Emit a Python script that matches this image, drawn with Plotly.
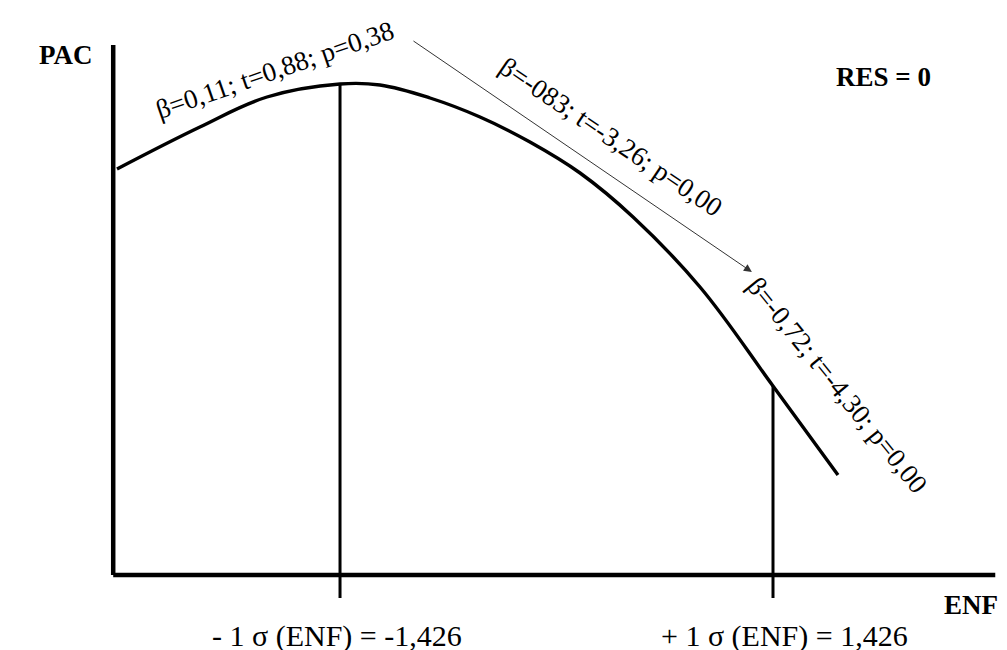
import plotly.graph_objects as go

# ENF (x) and PAC (y) values of the conceptual curve
enf = [-2.895, -2.349, -1.907, -1.426, -1.163, -0.833, -0.504, -0.175, 0.155, 0.504, 0.945, 1.426, 1.854]
pac = [4.06, 4.48, 4.78, 4.91, 4.90, 4.77, 4.58, 4.33, 4.02, 3.58, 2.88, 1.89, 1.00]

sigma_x = [-1.426, 1.426]
sigma_y = [4.91, 1.89]
sigma_labels = ["- 1 σ (ENF) = -1,426", "+ 1 σ (ENF) = 1,426"]
sigma_label_x = [-1.449, 1.502]

axis_x = [-2.92, 2.89]
axis_y = [0, 5.3]

slope_texts = ["β=0,11; t=0,88; p=0,38", "β=-083; t=-3,26; p=0,00", "β=-0,72; t=-4,30; p=0,00"]
slope_pos_x = [-1.854, 0.359, 1.848]
slope_pos_y = [5.05, 4.38, 1.90]
slope_angles = [-19, 34, 51]

arrow_from = (-0.952, 5.35)
arrow_to = (1.287, 3.03)

font_family = "Liberation Serif, Times New Roman, serif"

fig = go.Figure()

# axes
fig.add_trace(go.Scatter(x=[axis_x[0], axis_x[0]], y=[axis_y[0], axis_y[1]], mode="lines",
                         line=dict(color="black", width=4.5), hoverinfo="skip", showlegend=False))
fig.add_trace(go.Scatter(x=[axis_x[0], axis_x[1]], y=[axis_y[0], axis_y[0]], mode="lines",
                         line=dict(color="black", width=4.5), hoverinfo="skip", showlegend=False))

# vertical sigma lines
for sx, sy in zip(sigma_x, sigma_y):
    fig.add_trace(go.Scatter(x=[sx, sx], y=[-0.23, sy], mode="lines",
                             line=dict(color="black", width=3), hoverinfo="skip", showlegend=False))

# curve
fig.add_trace(go.Scatter(x=enf, y=pac, mode="lines", line=dict(color="black", width=3.4, shape="spline", smoothing=1.1),
                         hoverinfo="skip", showlegend=False))

# arrow
fig.add_annotation(x=arrow_to[0], y=arrow_to[1], ax=arrow_from[0], ay=arrow_from[1],
                   xref="x", yref="y", axref="x", ayref="y", showarrow=True,
                   arrowhead=2, arrowsize=1.6, arrowwidth=1, arrowcolor="#333", text="")

for t, x, y, a in zip(slope_texts, slope_pos_x, slope_pos_y, slope_angles):
    fig.add_annotation(x=x, y=y, text=t, textangle=a, showarrow=False,
                       font=dict(family=font_family, size=27, color="black"))

for t, x in zip(sigma_labels, sigma_label_x):
    fig.add_annotation(x=x, y=-0.61, text=t, showarrow=False,
                       font=dict(family=font_family, size=30, color="black"))

fig.add_annotation(x=-3.231, y=5.2, text="<b>PAC</b>", showarrow=False,
                   font=dict(family=font_family, size=27, color="black"))
fig.add_annotation(x=2.151, y=4.98, text="<b>RES = 0</b>", showarrow=False,
                   font=dict(family=font_family, size=27, color="black"))
fig.add_annotation(x=2.731, y=-0.30, text="<b>ENF</b>", showarrow=False,
                   font=dict(family=font_family, size=27, color="black"))

fig.update_layout(
    width=1007, height=650,
    margin=dict(l=0, r=0, t=0, b=0),
    paper_bgcolor="white", plot_bgcolor="white",
    xaxis=dict(range=[-3.613, 3.020], visible=False, fixedrange=True),
    yaxis=dict(range=[-0.83, 5.67], visible=False, fixedrange=True),
)

fig.write_html("out.html")
